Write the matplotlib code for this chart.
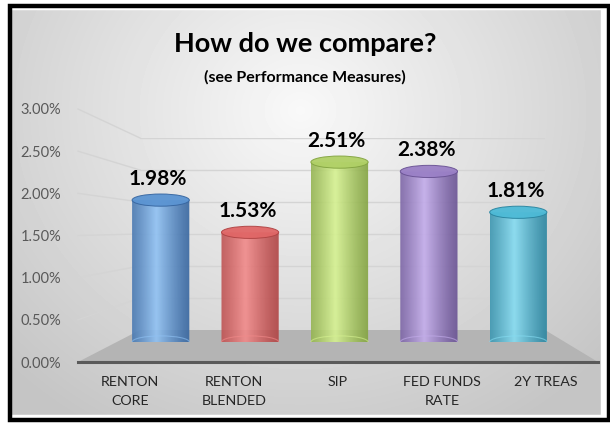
import numpy as np
import matplotlib.pyplot as plt
from matplotlib.patches import Ellipse, Polygon, Rectangle
from matplotlib.path import Path
from matplotlib.colors import to_rgb

plt.rcParams['font.family'] = ['Lato', 'DejaVu Sans']

# 数据
categories = ['RENTON\nCORE', 'RENTON\nBLENDED', 'SIP', 'FED FUNDS\nRATE', '2Y TREAS']
values = [1.98, 1.53, 2.51, 2.38, 1.81]
y_ticks = [0.0, 0.5, 1.0, 1.5, 2.0, 2.5, 3.0]
# (dark edge, light highlight, base)
bar_colors = [
    ('#3766a0', '#90c2f4', '#5b94d2'),
    ('#b04444', '#f28a8a', '#e06666'),
    ('#84a442', '#d6f291', '#b0d066'),
    ('#6a5394', '#c3aceb', '#9a80c6'),
    ('#2a85a0', '#85dcf2', '#4dbad6'),
]

W, H = 610, 424
fig = plt.figure(figsize=(W / 100, H / 100), dpi=100)


def px_axes(x0, y0, x1, y1):
    return fig.add_axes([x0 / W, 1 - y1 / H, (x1 - x0) / W, (y1 - y0) / H])


# 背景
ax_bg = fig.add_axes([0, 0, 1, 1])
ax_bg.set_xlim(0, W)
ax_bg.set_ylim(H, 0)
ax_bg.axis('off')
ax_bg.set_zorder(0)
yy, xx = np.mgrid[0:H, 0:W]
r = np.sqrt(((xx - 300) / 420) ** 2 + ((yy - 110) / 380) ** 2)
shade = np.clip(0.975 - 0.21 * r, 0.77, 0.98)
ax_bg.imshow(shade, cmap='gray', vmin=0, vmax=1, extent=[0, W, H, 0], aspect='auto')
ax_bg.add_patch(Rectangle((0, 0), W, H, facecolor='none', edgecolor='white', lw=14))
ax_bg.add_patch(Rectangle((9.5, 5.5), 599, 414, facecolor='none', edgecolor='black', lw=3.2))

# 前轴(刻度)
ax_front = px_axes(78, 109, 598, 362)
ax_front.set_xlim(-0.5, len(categories) - 0.5)
ax_front.set_ylim(0, 3.0)
ax_front.patch.set_alpha(0)
for s in ax_front.spines.values():
    s.set_visible(False)
ax_front.set_yticks(y_ticks)
ax_front.set_yticklabels([f'{t:.2f}%' for t in y_ticks], fontsize=10.5, color='#595959')
ax_front.set_xticks(range(len(categories)))
ax_front.set_xticklabels(categories, fontsize=10.3, color='#262626', linespacing=1.7)
ax_front.tick_params(length=0)
ax_front.tick_params(axis='y', pad=12)
ax_front.tick_params(axis='x', pad=10)
ax_front.set_zorder(4)

# 后墙
ax_back = px_axes(140, 138, 545, 330)
ax_back.set_xlim(0, 1)
ax_back.set_ylim(0, 3.0)
ax_back.axis('off')
ax_back.set_zorder(1)
for t in y_ticks[1:]:
    ax_back.axhline(t, color='#d4d4d4', lw=1.0)

# 侧墙斜线 + 地板
fig.canvas.draw()
for t in y_ticks[1:]:
    fx, fy = ax_front.transData.transform((-0.5, t))
    bx, by = ax_back.transData.transform((0, t))
    ax_bg.plot([fx, bx], [H - fy, H - by], color='#d4d4d4', lw=1.0)
fl = ax_front.transData.transform((-0.5, 0))
fr = ax_front.transData.transform((len(categories) - 0.5, 0))
bl = ax_back.transData.transform((0, 0))
br = ax_back.transData.transform((1, 0))
floor = [(fl[0], H - fl[1]), (bl[0], H - bl[1]), (br[0], H - br[1]), (fr[0], H - fr[1])]
ax_bg.add_patch(Polygon(floor, closed=True, facecolor='#b4b4b4', edgecolor='none'))
ax_bg.plot([fl[0], fr[0]], [H - fl[1], H - fr[1]], color='#5a5a5a', lw=2.2)

# 圆柱
ax_bars = px_axes(116, 127, 563, 342)
ax_bars.set_xlim(-0.5, len(categories) - 0.5)
ax_bars.set_ylim(0, 3.0)
ax_bars.axis('off')
ax_bars.set_zorder(2)
bw = 0.64
eh = 0.17
ang = np.linspace(np.pi, 2 * np.pi, 40)
for i, (v, (dark, light, base)) in enumerate(zip(values, bar_colors)):
    x0, x1 = i - bw / 2, i + bw / 2
    u = np.linspace(0, 1, 64)
    # 横向明暗: 暗 -> 亮 -> 暗
    w = np.clip(1 - np.abs(u - 0.42) / 0.58, 0, 1) ** 1.2
    cd, cl = np.array(to_rgb(dark)), np.array(to_rgb(light))
    grad = (cd[None, :] * (1 - w[:, None]) + cl[None, :] * w[:, None])[None, :, :]
    pts = [(x0, v), (x0, 0)]
    pts += [(i + bw / 2 * np.cos(a), eh / 2 * np.sin(a)) for a in ang]
    pts += [(x1, 0), (x1, v), (x0, v)]
    clip = Path(pts, closed=True)
    im = ax_bars.imshow(grad, extent=[x0, x1, -eh / 2, v], aspect='auto', alpha=0.9,
                        interpolation='bilinear', zorder=2)
    im.set_clip_path(clip, transform=ax_bars.transData)
    ax_bars.add_patch(Ellipse((i, 0), bw, eh, facecolor='none', edgecolor=light,
                              lw=0.8, alpha=0.6, zorder=2.5))
    ax_bars.add_patch(Ellipse((i, v), bw, eh, facecolor=base, edgecolor=dark,
                              lw=0.7, alpha=0.95, zorder=3))
    ax_bars.annotate(f'{v:.2f}%', (i, v), xytext=(-2, 15.5), textcoords='offset points',
                     ha='center', va='center', fontsize=15, fontweight='bold',
                     color='black', zorder=5)

# 标题
fig.text(305 / W, 1 - 44 / H, 'How do we compare?', ha='center', va='center',
         fontsize=19.5, fontweight='bold', color='black')
fig.text(305 / W, 1 - 77 / H, '(see Performance Measures)', ha='center', va='center',
         fontsize=11.5, fontweight='bold', color='black')

plt.savefig('out.png', dpi=100)
